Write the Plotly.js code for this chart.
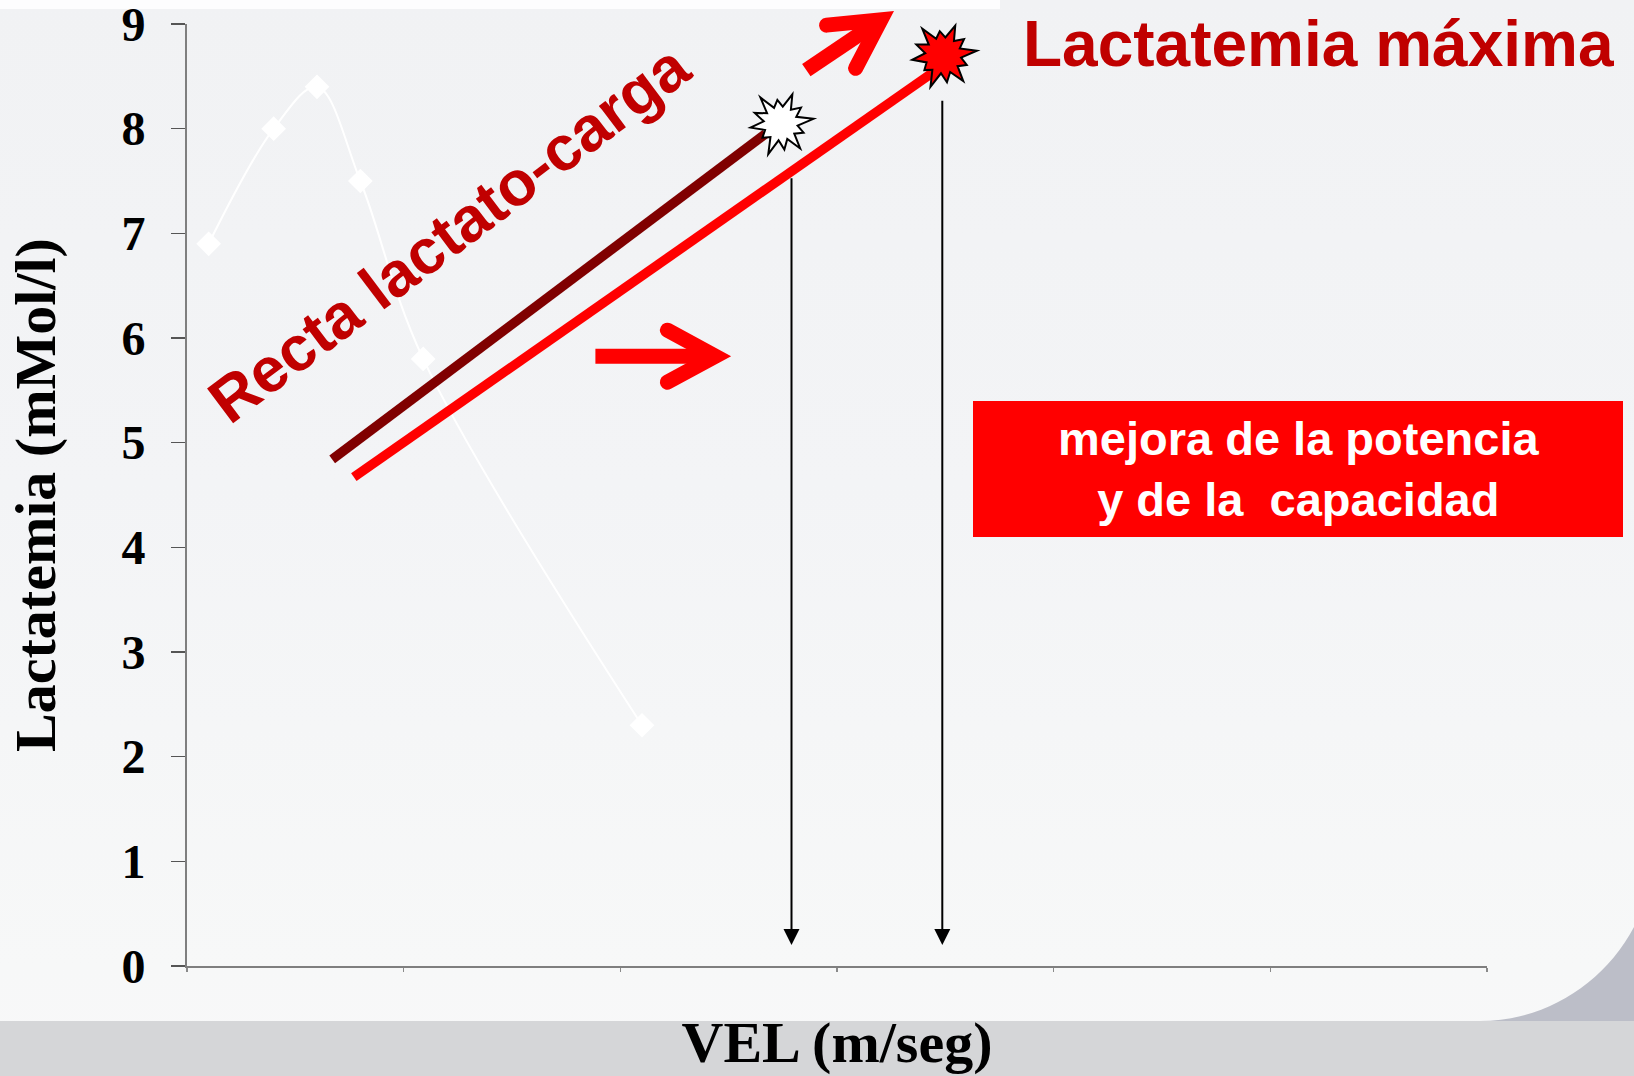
<!DOCTYPE html>
<html>
<head>
<meta charset="utf-8">
<script src="https://cdn.plot.ly/plotly-3.0.1.min.js"></script>
<style>
  html, body { margin: 0; padding: 0; }
  body {
    width: 1634px; height: 1076px; overflow: hidden;
    background: linear-gradient(to bottom, #f1f2f4 0%, #f3f4f6 45%, #f7f8f8 90%, #f8f8f9 100%);
  }
  #plot { width: 1634px; height: 1076px; }
</style>
</head>
<body>
<div id="plot"></div>
<script>
// Data (x axis has no labels: units are tick steps)
const velocidad = [0.1, 0.4, 0.6, 0.8, 1.09, 2.1];
const lactatemia = [6.9, 8.0, 8.4, 7.5, 5.8, 2.3];

// "Recta lactato-carga" before (dark) and after (red) training
const rectaAntesX = [0.67, 2.67];
const rectaAntesY = [4.84, 7.95];
const rectaDespuesX = [0.77, 3.445];
const rectaDespuesY = [4.67, 8.54];

// max lactate bursts and the arrows dropping to the x axis
const picoX = [2.74, 3.49];
const picoY = [8.05, 8.7];
const picoColor = ["#ffffff", "#ff0000"];
const caidaX = [2.79, 3.486];
const caidaTop = [7.54, 8.28];
const caidaBase = 0.2;

// big red arrows (tip position, angle in degrees, shaft length px)
const flechaX = [2.508, 3.26];
const flechaY = [5.826, 9.12];
const flechaAng = [0, 34];
const flechaLen = [135, 105];

const yTicks = [0, 1, 2, 3, 4, 5, 6, 7, 8, 9];
const xTicks = [0, 1, 2, 3, 4, 5, 6];

const X_MAX = 6, Y_MAX = 9;
const M = { l: 187, r: 147, t: 24, b: 110 };
const W = 1634, H = 1076;
const PW = W - M.l - M.r, PH = H - M.t - M.b;

// page pixel -> paper fraction (only for slide decorations)
const fx = (px) => (px - M.l) / PW;
const fy = (py) => (H - M.b - py) / PH;

function starPath(rOut, rIn) {
  const f = [1, 0.78, 0.95, 0.72, 1, 0.85, 0.92, 0.7, 1, 0.8, 0.96, 0.75];
  let d = "";
  for (let i = 0; i < 24; i++) {
    const a = ((i * 15 + 8) * Math.PI) / 180;
    const r = i % 2 === 0 ? rOut * f[i / 2] : rIn;
    d += (i ? "L" : "M") + (r * Math.cos(a)).toFixed(1) + "," + (r * Math.sin(a)).toFixed(1);
  }
  return d + "Z";
}

const shapes = [];
const roundCaps = [];

// slide decorations
shapes.push({
  type: "rect", xref: "paper", yref: "paper", layer: "below",
  x0: fx(0), x1: fx(1000), y0: fy(0), y1: fy(9),
  fillcolor: "rgba(255,255,255,0.85)", line: { width: 0 },
});
shapes.push({
  type: "rect", xref: "paper", yref: "paper", layer: "below",
  x0: fx(0), x1: fx(W), y0: fy(1021), y1: fy(H),
  fillcolor: "#d5d6d8", line: { width: 0 },
});
shapes.push({
  type: "path", xref: "paper", yref: "paper", layer: "below",
  path: `M${fx(1480)},${fy(1021)} C${fx(1545)},${fy(1021)} ${fx(1604)},${fy(984)} ${fx(W)},${fy(927)} L${fx(W)},${fy(1021)} Z`,
  fillcolor: "#bcbec8", line: { width: 0 },
});

// red box
shapes.push({
  type: "rect", xref: "paper", yref: "paper",
  x0: fx(973), x1: fx(1623), y0: fy(537), y1: fy(401),
  fillcolor: "#ff0000", line: { width: 0 },
});

// big red arrows (apex pulled back so the mitred point lands on the tip)
for (let i = 0; i < flechaX.length; i++) {
  const a = (flechaAng[i] * Math.PI) / 180;
  const dx = Math.cos(a), dy = Math.sin(a);
  const px = -dy, py = dx;
  const back = 48, side = 26, pull = 15;
  const anchor = {
    type: "path", xref: "paper", yref: "paper",
    xsizemode: "pixel", ysizemode: "pixel",
    xanchor: flechaX[i] / X_MAX, yanchor: flechaY[i] / Y_MAX,
  };
  const s0 = [-dx * flechaLen[i], -dy * flechaLen[i]];
  const s1 = [-dx * (pull + 10), -dy * (pull + 10)];
  shapes.push(Object.assign({}, anchor, {
    path: `M${s0[0].toFixed(1)},${s0[1].toFixed(1)} L${s1[0].toFixed(1)},${s1[1].toFixed(1)}`,
    line: { color: "#ff0000", width: 15 },
  }));
  const ap = [-dx * pull, -dy * pull];
  const a1 = [ap[0] - dx * back + px * side, ap[1] - dy * back + py * side];
  const a2 = [ap[0] - dx * back - px * side, ap[1] - dy * back - py * side];
  roundCaps.push(shapes.length);
  shapes.push(Object.assign({}, anchor, {
    path: `M${a1[0].toFixed(1)},${a1[1].toFixed(1)} L${ap[0].toFixed(1)},${ap[1].toFixed(1)} L${a2[0].toFixed(1)},${a2[1].toFixed(1)}`,
    line: { color: "#ff0000", width: 15 },
  }));
}

// bursts
for (let i = 0; i < picoX.length; i++) {
  shapes.push({
    type: "path", xref: "paper", yref: "paper",
    xsizemode: "pixel", ysizemode: "pixel",
    xanchor: picoX[i] / X_MAX, yanchor: picoY[i] / Y_MAX,
    path: i === 0 ? starPath(33, 17) : starPath(34, 18),
    fillcolor: picoColor[i],
    line: { color: "#000000", width: 2 },
  });
}

const annotations = [];

for (let i = 0; i < caidaX.length; i++) {
  annotations.push({
    x: caidaX[i], y: caidaBase, xref: "x", yref: "y",
    ax: caidaX[i], ay: caidaTop[i], axref: "x", ayref: "y",
    text: "", showarrow: true,
    arrowhead: 2, arrowsize: 1.6, arrowwidth: 2, arrowcolor: "#000000",
  });
}

annotations.push({
  x: 1.21, y: 7.0, xref: "x", yref: "y",
  text: "Recta lactato-carga", showarrow: false, textangle: -37,
  xanchor: "center", yanchor: "middle",
  font: { family: "Liberation Sans, Arial", size: 63, color: "#c00000", weight: "bold" },
});

annotations.push({
  x: fx(1318), y: fy(44), xref: "paper", yref: "paper",
  text: "Lactatemia máxima", showarrow: false,
  xanchor: "center", yanchor: "middle",
  font: { family: "Liberation Sans, Arial", size: 64, color: "#c00000", weight: "bold" },
});

annotations.push({
  x: fx(1298), y: fy(469), xref: "paper", yref: "paper",
  text: "mejora de la potencia<br>y de la\u00a0 capacidad", showarrow: false,
  xanchor: "center", yanchor: "middle", align: "center",
  font: { family: "Liberation Sans, Arial", size: 47, color: "#ffffff", weight: "bold" },
});

const traces = [
  {
    x: velocidad, y: lactatemia,
    type: "scatter", mode: "lines+markers",
    line: { color: "#ffffff", width: 2, shape: "spline", smoothing: 1 },
    marker: { symbol: "diamond", size: 19, color: "#ffffff" },
    cliponaxis: false,
  },
  {
    x: rectaAntesX, y: rectaAntesY,
    type: "scatter", mode: "lines",
    line: { color: "#800000", width: 9.5 },
  },
  {
    x: rectaDespuesX, y: rectaDespuesY,
    type: "scatter", mode: "lines",
    line: { color: "#ff0000", width: 9.5 },
    cliponaxis: false,
  },
];

const serif = "Liberation Serif, Times New Roman, serif";

const layout = {
  width: W, height: H,
  margin: M,
  showlegend: false,
  paper_bgcolor: "rgba(0,0,0,0)",
  plot_bgcolor: "rgba(0,0,0,0)",
  xaxis: {
    range: [0, X_MAX],
    tickvals: xTicks,
    showticklabels: false,
    ticks: "outside", ticklen: 4, tickwidth: 1.5, tickcolor: "#8a8a8a",
    showgrid: false, zeroline: false,
    showline: true, linecolor: "#7f7f7f", linewidth: 2,
    title: {
      text: "VEL (m/seg)", standoff: 50,
      font: { family: serif, size: 58, color: "#000000", weight: "bold" },
    },
  },
  yaxis: {
    range: [0, Y_MAX],
    tickvals: yTicks,
    ticks: "outside", ticklen: 14, tickwidth: 1.5, tickcolor: "#555555",
    ticklabelstandoff: 16,
    ticklabeloverflow: "allow",
    tickfont: { family: serif, size: 48, color: "#000000", weight: "bold" },
    showgrid: false, zeroline: false,
    showline: true, linecolor: "#7f7f7f", linewidth: 2,
    title: {
      text: "Lactatemia (mMol/l)", standoff: 47,
      font: { family: serif, size: 58, color: "#000000", weight: "bold" },
    },
  },
  shapes: shapes,
  annotations: annotations,
};

Plotly.newPlot("plot", traces, layout, { staticPlot: true, displayModeBar: false }).then(() => {
  // arrow heads get rounded ends like the slide
  roundCaps.forEach((idx) => {
    document.querySelectorAll(`.shapelayer path[data-index="${idx}"]`).forEach((p) => {
      p.style.strokeLinecap = "round";
    });
  });
});
</script>
</body>
</html>
